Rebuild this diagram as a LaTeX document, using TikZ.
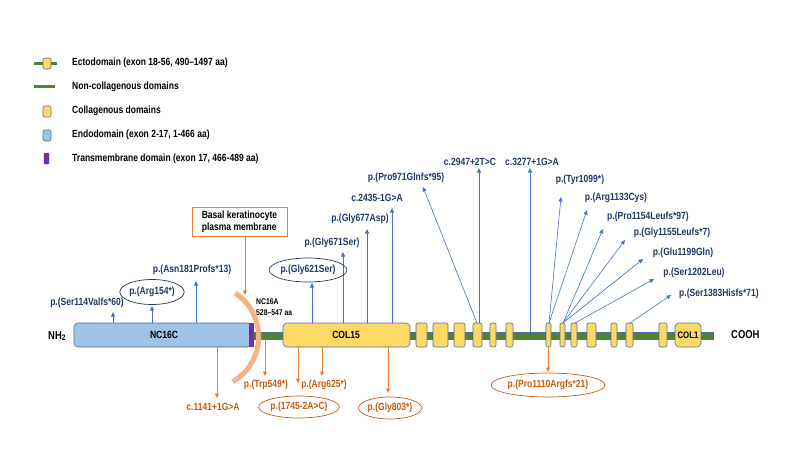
\documentclass[tikz,border=0pt]{standalone}
\usepackage{fontspec}
\setmainfont{Liberation Sans}[FakeStretch=0.82]
\usetikzlibrary{arrows.meta,shapes.geometric}
\definecolor{endoblue}{HTML}{9DC3E6}
\definecolor{collyellow}{HTML}{FFD966}
\definecolor{boxedge}{HTML}{4A6E9E}
\definecolor{ncgreen}{HTML}{538135}
\definecolor{tmpurple}{HTML}{7030A0}
\definecolor{membrane}{HTML}{F4B183}
\definecolor{arrblue}{HTML}{4472C4}
\definecolor{navy}{HTML}{203864}
\definecolor{arrorange}{HTML}{ED7D31}
\definecolor{darkorange}{HTML}{C55A11}
\begin{document}
\begin{tikzpicture}[x=1pt,y=-1pt,
    every node/.style={font=\bfseries\fontsize{10.4}{12}\selectfont,inner sep=0pt},
    upline/.style={draw=arrblue,line width=0.6pt,-{Triangle[width=4pt,length=4.5pt]}},
    downline/.style={draw=arrorange,line width=0.6pt,-{Triangle[width=4pt,length=4.5pt]}},
    uplab/.style={text=navy},
    downlab/.style={text=darkorange},
    upring/.style={uplab,ellipse,draw=navy,line width=0.7pt},
    downring/.style={downlab,ellipse,draw=darkorange,line width=0.7pt},
    collbox/.style={fill=collyellow,draw=boxedge,rounded corners=2pt,line width=0.6pt},
    legtext/.style={anchor=west}]
\useasboundingbox (0,0) rectangle (800,450);
% legend
\draw[ncgreen,line width=3pt] (34,63) -- (57,63);
\draw[collbox] (43,58) rectangle (51,69);
\node[legtext] (leg1) at (72,63) {Ectodomain (exon 18-56, 490–1497 aa)};
\draw[ncgreen,line width=3pt] (34,86) -- (55,86);
\node[legtext] (leg2) at (72,87) {Non-collagenous domains};
\draw[collbox] (43,106) rectangle (51,117);
\node[legtext] (leg3) at (72,111) {Collagenous domains};
\draw[fill=endoblue,draw=boxedge,rounded corners=2pt,line width=0.6pt] (43,130) rectangle (51,141);
\node[legtext] (leg4) at (72,135) {Endodomain (exon 2-17, 1-466 aa)};
\draw[fill=tmpurple,draw=tmpurple,rounded corners=1pt] (44,153) rectangle (49,164);
\node[legtext] (leg5) at (72,159) {Transmembrane domain (exon 17, 466-489 aa)};
% protein bar
\draw[fill=ncgreen,draw=boxedge,line width=0.4pt] (252,332) rectangle (713,339);
\draw[fill=endoblue,draw=boxedge,rounded corners=4pt,line width=0.6pt] (74,323) rectangle (252,347);
\fill[tmpurple] (249,323) rectangle (254,347);
\node (nc16c) at (164,335) {NC16C};
\draw[collbox,rounded corners=4pt] (283,323) rectangle (410,347);
\node (col15) at (346,335) {COL15};
\foreach \xa/\xb in {416/427,433/448,454/465,473/482,490/496,506/513,546/551,560/565,571/577,587/596,611/617,626/633,659/667}
    \draw[collbox] (\xa,323) rectangle (\xb,347);
\draw[collbox,rounded corners=4pt] (675,323) rectangle (701,347);
\node[font=\bfseries\fontsize{9.5}{11}\selectfont] (col1) at (688,335) {COL1};
\node[anchor=west,font=\bfseries\fontsize{11.5}{13}\selectfont] (nh2) at (48,336) {NH\textsubscript{2}};
\node[anchor=west,font=\bfseries\fontsize{11.5}{13}\selectfont] (cooh) at (731,335) {COOH};
% membrane
\draw[membrane,line width=5pt] (235,293) arc[start angle=-57,end angle=60,radius=52];
\node[draw=arrorange,line width=0.8pt,minimum width=95pt,minimum height=29pt,align=left] (memb) at (239.5,221.5) {Basal keratinocyte\\plasma membrane};
\coordinate (membtip) at (245,295);
\draw[downline] (memb.south -| membtip) -- (membtip);
\node[anchor=west,font=\bfseries\fontsize{8.3}{10}\selectfont] (nc16a) at (256,302) {NC16A};
\node[anchor=west,font=\bfseries\fontsize{8.3}{10}\selectfont] (nc16aa) at (256,313) {528–547 aa};
% variants above the bar
\foreach \nm/\bx/\by/\tx/\ty in {s114/113/323/113/312, r154/152/323/152/306, n181/196/323/196/281,
    g621/312/323/312/283, g671/343/323/343/252, g677/367/323/367/229, c2435/392/323/392/208,
    p971/477/323/423/187, c2947/479/323/479/168, c3277/530/332/530/168,
    y1099/549/323/561/197, r1133/549/323/587/210, p1154/563/323/603/229, g1155/563/323/625/240,
    e1199/563/323/643/259, s1202/575/323/654/279, s1383/630/323/671/295}
{
    \coordinate (\nm base) at (\bx,\by);
    \coordinate (\nm tip) at (\tx,\ty);
    \draw[upline] (\nm base) -- (\nm tip);
}
\node[uplab] (s114) at (87,303) {p.(Ser114Valfs*60)};
\node[upring,minimum width=56pt,minimum height=25pt] (r154) at (152,292) {p.(Arg154*)};
\node[uplab] (n181) at (192,270) {p.(Asn181Profs*13)};
\node[upring,minimum width=64pt,minimum height=24pt] (g621) at (308,270) {p.(Gly621Ser)};
\node[uplab] (g671) at (332,243) {p.(Gly671Ser)};
\node[uplab] (g677) at (360,219) {p.(Gly677Asp)};
\node[uplab] (c2435) at (377,198) {c.2435-1G>A};
\node[uplab] (p971) at (406,178) {p.(Pro971Glnfs*95)};
\node[uplab] (c2947) at (470,162) {c.2947+2T>C};
\node[uplab] (c3277) at (532,162) {c.3277+1G>A};
\node[uplab] (y1099) at (580,180) {p.(Tyr1099*)};
\node[uplab] (r1133) at (616,198) {p.(Arg1133Cys)};
\node[uplab] (p1154) at (648,217) {p.(Pro1154Leufs*97)};
\node[uplab] (g1155) at (672,233) {p.(Gly1155Leufs*7)};
\node[uplab] (e1199) at (683,253) {p.(Glu1199Gln)};
\node[uplab] (s1202) at (694,273) {p.(Ser1202Leu)};
\node[uplab] (s1383) at (719,294) {p.(Ser1383Hisfs*71)};
% variants below the bar
\foreach \nm/\bx/\by/\ty in {c1141/217/347/398, w549/265/339/376, a1745/298/347/383,
    r625/322/347/376, g803/388/347/393, p1110/548/347/372}
{
    \coordinate (\nm base) at (\bx,\by);
    \coordinate (\nm tip) at (\bx,\ty);
    \draw[downline] (\nm base) -- (\nm tip);
}
\node[downlab] (c1141) at (213,407) {c.1141+1G>A};
\node[downlab] (w549) at (266,385) {p.(Trp549*)};
\node[downring,minimum width=70pt,minimum height=22pt] (a1745) at (299,407) {p.(1745-2A>C)};
\node[downlab] (r625) at (324,385) {p.(Arg625*)};
\node[downring,minimum width=62pt,minimum height=22pt] (g803) at (390,408) {p.(Gly803*)};
\node[downring,minimum width=98pt,minimum height=24pt] (p1110) at (548,385) {p.(Pro1110Argfs*21)};
\end{tikzpicture}
\end{document}
